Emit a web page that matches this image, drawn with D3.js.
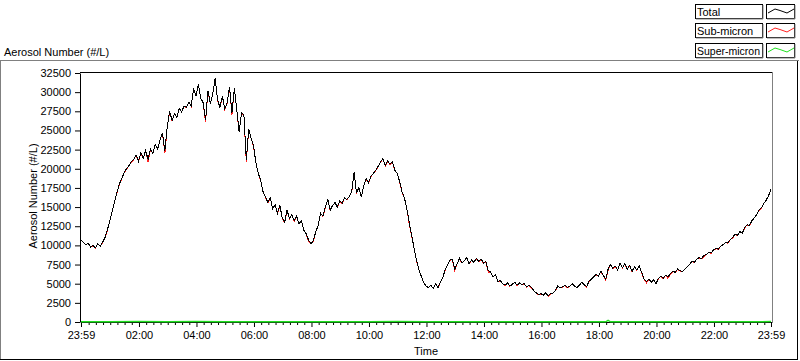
<!DOCTYPE html>
<html><head><meta charset="utf-8">
<script src="https://cdn.jsdelivr.net/npm/d3@7"></script>
<style>
html,body{margin:0;padding:0;background:#fff;}
svg{display:block;font-family:"Liberation Sans",Arial,sans-serif;}
</style></head><body>
<svg id="chart" width="800" height="361"></svg>
<script>
// ---------------- data ----------------
const startTime = "23:59";          // first sample (previous day)
const sampleStepMinutes = 5;         // spacing of the total / sub-micron samples
const total = [
10700,10400,10100,10300,9800,10000,9700,10200,9900,10400,
11000,12000,13200,14400,15700,16900,18000,18700,19500,20000,
20400,20900,21200,21800,21000,22100,21400,22400,21200,22600,
22000,23200,22600,23800,24700,22300,25500,27500,26300,27200,
26700,27900,27400,28200,28000,28700,28200,30500,29500,31000,
29200,28600,26400,30200,28500,29800,31800,29000,28000,29500,
27800,28600,30700,27300,30500,27800,24800,27300,27000,21200,
25200,24000,23000,20800,19400,18500,17000,16300,15600,16200,
14800,15300,14200,15200,13600,13000,14600,13500,14000,13200,
13800,12800,13200,12000,11500,10700,10200,10600,11800,12600,
14200,13800,15000,16000,14600,15200,15600,15000,15800,15500,
16200,16000,16400,17000,19600,16800,17600,16300,17800,18700,
18200,19000,19400,19800,20300,20900,21300,20400,21000,20600,
20900,19800,19400,18300,17000,16200,14800,13000,11300,9700,
8100,6900,6000,5200,4700,4500,4800,4400,5000,4500,
5200,5800,6800,7500,8100,8200,6900,7600,8300,7700,
8000,8400,7600,8100,7800,8300,7900,8200,7700,7900,
6700,6500,5900,6200,5300,5400,5000,4800,5100,4700,
4900,5200,4800,5100,4900,5000,4600,4800,4500,4100,
3800,3600,3700,3500,3800,3400,3700,3800,4100,4700,
4500,4600,4800,4500,4700,5000,4700,4500,4800,5200,
4900,4600,5300,5600,5900,6200,6000,6600,6100,5600,
6900,7500,7000,7300,6800,7700,7100,7600,6900,7400,
6600,7200,6800,7300,6500,5600,5300,5600,5200,5500,
5000,5700,6000,5700,6100,5900,6300,6600,6500,6900,
6700,6600,6900,7200,7500,7900,7800,8200,8400,8300,
8700,8800,9100,9000,9400,9600,9500,9900,10100,10400,
10300,10800,11000,11500,11300,11800,11600,12300,12700,12600,
13200,13600,14000,14600,14900,15500,15900,16500,17300
];
const subMicron = [
10650,10380,10080,10270,9760,9970,9680,10170,9880,10370,
10970,11960,13170,14370,15660,16870,17960,18670,19470,19960,
20370,20870,21170,21770,20970,22060,21370,22370,20900,22570,
21970,23170,22570,23770,24660,22000,25470,27470,26270,27170,
26670,27870,27370,28170,27970,28670,28170,30470,29470,30970,
29170,28570,26100,30170,28470,29770,31770,28970,27970,29470,
27770,28570,30670,27000,30470,27770,24770,27270,26970,20900,
25170,23970,22970,20770,19370,18470,16970,16270,15570,16170,
14770,15270,14170,15170,13570,12970,14570,13470,13970,13170,
13770,12770,13170,11970,11470,10500,10170,10570,11770,12570,
14170,13770,14970,15970,14570,15170,15570,14970,15770,15470,
16170,15970,16370,16970,19570,16770,17570,16270,17770,18670,
18170,18970,19370,19770,20270,20870,21270,20370,20970,20570,
20870,19770,19370,18270,16970,16170,14770,12800,11270,9670,
8070,6870,5970,5170,4670,4470,4770,4370,4970,4470,
5170,5770,6770,7470,8070,8170,6700,7570,8270,7670,
7970,8370,7570,8070,7770,8270,7870,8170,7670,7870,
6500,6470,5870,6170,5270,5370,4970,4770,5070,4670,
4870,5170,4770,5070,4870,4970,4570,4770,4470,4070,
3770,3570,3670,3470,3770,3370,3670,3770,4070,4670,
4470,4570,4770,4470,4670,4970,4670,4470,4770,5170,
4870,4570,5270,5570,5870,6170,5970,6570,6070,5400,
6700,7470,6970,7270,6770,7670,7070,7570,6870,7370,
6570,7170,6770,7270,6470,5570,5100,5570,5170,5470,
4970,5670,5970,5670,6070,5700,6270,6570,6470,6870,
6670,6570,6870,7170,7470,7870,7770,8170,8370,8270,
8500,8770,9070,8970,9370,9570,9470,9870,10070,10370,
10270,10770,10970,11470,11270,11770,11570,12270,12670,12570,
13170,13570,13970,14570,14870,15470,15870,16470,17250
];
const superMinutes = [0,60,120,180,240,300,360,420,480,540,600,660,720,780,840,900,960,1020,1080,1095,1100,1105,1140,1200,1260,1320,1380,1440];
const superMicron  = [40,30,50,40,60,45,35,40,30,40,35,50,30,25,30,20,25,30,25,30,220,30,25,30,35,40,45,50];

const yTicks = [0,2500,5000,7500,10000,12500,15000,17500,20000,22500,25000,27500,30000,32500];
const xTickLabels = ["23:59","02:00","04:00","06:00","08:00","10:00","12:00","14:00","16:00","18:00","20:00","22:00","23:59"];
const seriesNames = ["Total","Sub-micron","Super-micron"];
const seriesColors = ["#000000","#ff2020","#20e020"];
const yTitle = "Aerosol Number (#/L)";
const xTitle = "Time";

// ---------------- chart ----------------
const svg = d3.select("#chart");
const FONT = 11;
const day0 = new Date(2000,0,1,+startTime.slice(0,2),+startTime.slice(3));
const at = m => new Date(day0.getTime() + m*60000);
const x = d3.scaleTime().domain([at(0), at(1440)]).range([81,771]);
const y = d3.scaleLinear().domain([0,32500]).range([322,73]);

// outer panel frame
svg.append("line").attr("x1",0).attr("x2",799).attr("y1",60.5).attr("y2",60.5).attr("stroke","#808080");
svg.append("line").attr("x1",0.5).attr("x2",0.5).attr("y1",60).attr("y2",360).attr("stroke","#808080");
svg.append("line").attr("x1",797.5).attr("x2",797.5).attr("y1",61).attr("y2",360).attr("stroke","#000");
svg.append("line").attr("x1",0).attr("x2",798).attr("y1",359.5).attr("y2",359.5).attr("stroke","#000");

// title above the frame
svg.append("text").attr("x",4).attr("y",56).attr("font-size",FONT).text(yTitle);

// plot frame top/right
svg.append("line").attr("x1",80).attr("x2",773).attr("y1",72.5).attr("y2",72.5).attr("stroke","#000");
svg.append("line").attr("x1",772.5).attr("x2",772.5).attr("y1",72).attr("y2",323).attr("stroke","#808080");

// minutes offset for tick labels
const labelOffsets = xTickLabels.map((s,i) => {
  if (i === 0) return 0;
  const mm = +s.slice(0,2)*60 + +s.slice(3);
  let off = (mm - (day0.getHours()*60+day0.getMinutes()) + 1440) % 1440;
  if (off === 0) off = 1440;
  return off;
});
const majorDates = labelOffsets.map(at);
const minorDates = d3.timeMinute.every(15).range(at(1), at(1440))
  .filter(d => !majorDates.some(m => Math.abs(m - d) < 60000*3));

// y axis
const gy = svg.append("g").attr("transform","translate(80,0)")
  .call(d3.axisLeft(y).tickValues(yTicks).tickSize(5).tickSizeOuter(0).tickPadding(4).tickFormat(d3.format("d")));
gy.selectAll("text").attr("font-size",FONT).attr("font-family","Liberation Sans, Arial, sans-serif").attr("fill","#000");
gy.selectAll("line,path").attr("stroke","#000");

// x axis minor
const gxm = svg.append("g").attr("transform","translate(0,322)")
  .call(d3.axisBottom(x).tickValues(minorDates).tickSize(3).tickSizeOuter(0).tickFormat(""));
gxm.select(".domain").remove();
gxm.selectAll("line").attr("stroke","#000");
// x axis major
const gx = svg.append("g").attr("transform","translate(0,322)")
  .call(d3.axisBottom(x).tickValues(majorDates).tickSize(5).tickSizeOuter(0).tickPadding(4)
    .tickFormat((d,i) => xTickLabels[i]));
gx.selectAll("text").attr("font-size",FONT).attr("font-family","Liberation Sans, Arial, sans-serif").attr("fill","#000");
gx.selectAll("line,path").attr("stroke","#000");

// axis titles
svg.append("text").attr("x",426).attr("y",355).attr("text-anchor","middle").attr("font-size",FONT).text(xTitle);
svg.append("text").attr("transform","translate(37,196) rotate(-90)").attr("text-anchor","middle")
  .attr("font-size",FONT).text(yTitle);

// data lines
const line = d3.line().x(d => x(d[0])).y(d => y(d[1]));
const mainPts = arr => arr.map((v,i) => [at(i*sampleStepMinutes), v]);
const plot = svg.append("g");
plot.append("path").datum(mainPts(subMicron)).attr("d",line).attr("fill","none")
  .attr("stroke",seriesColors[1]).attr("stroke-width",1).attr("shape-rendering","crispEdges");
plot.append("path").datum(mainPts(total)).attr("d",line).attr("fill","none")
  .attr("stroke",seriesColors[0]).attr("stroke-width",1).attr("shape-rendering","crispEdges");
plot.append("path").datum(superMinutes.map((m,i)=>[at(m), superMicron[i]])).attr("d",line).attr("fill","none")
  .attr("stroke",seriesColors[2]).attr("stroke-width",1.5);

// legend
const zig = [[0,9],[7,5],[12,6.5],[19,9],[26,5]];
seriesNames.forEach((name,i) => {
  const top = 4 + i*19.3;
  const g = svg.append("g").attr("transform",`translate(0,${Math.round(top)})`);
  g.append("rect").attr("x",695.5).attr("y",0.5).attr("width",67).attr("height",14).attr("fill","#fff").attr("stroke","#000");
  g.append("path").attr("d","M763,1V15H696").attr("fill","none").attr("stroke","#808080");
  const t = g.append("text").attr("x",697).attr("y",12).attr("font-size",FONT).text(name);
  if (t.node().getComputedTextLength() > 63) t.attr("textLength",63).attr("lengthAdjust","spacingAndGlyphs");
  g.append("rect").attr("x",766.5).attr("y",0.5).attr("width",28).attr("height",14).attr("fill","#fff").attr("stroke","#000");
  g.append("path").attr("d","M795,1V15H767").attr("fill","none").attr("stroke","#808080");
  g.append("path").attr("d", d3.line()(zig.map(p => [768+p[0], p[1]]))).attr("fill","none")
    .attr("stroke",seriesColors[i]).attr("stroke-width",1);
});
</script>
</body></html>
